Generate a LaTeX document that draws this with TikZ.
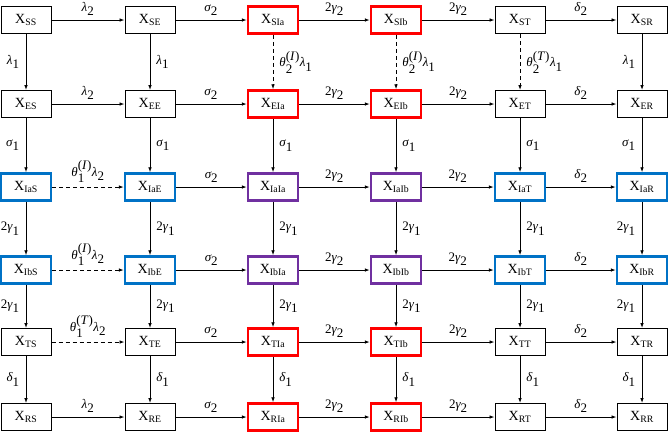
\documentclass[tikz,border=0pt]{standalone}
\usepackage{fontspec}
\setmainfont{Liberation Serif}
\usetikzlibrary{arrows.meta}
\newcommand\gs[2]{$\textit{#1}_{\textnormal{#2}}$}
\newcommand\thI[2]{$\textit{θ}_{\textnormal{#1}}^{\textnormal{(\textit{#2})}}$}
\definecolor{cred}{RGB}{255,0,0}
\definecolor{cblue}{RGB}{0,114,198}
\definecolor{cpurple}{RGB}{112,48,160}
\tikzset{
  boxbase/.style={rectangle, minimum width=50pt, minimum height=27pt, inner sep=0pt,
    font=\fontsize{14}{16}\selectfont},
  box0/.style={boxbase, draw=black, line width=1pt},
  box1/.style={boxbase, draw=cred, line width=2.5pt},
  box2/.style={boxbase, draw=cblue, line width=2.5pt},
  box3/.style={boxbase, draw=cpurple, line width=2.5pt},
  arr/.style={-{Latex[length=5pt,width=3.6pt]}, line width=0.9pt},
  dsh/.style={dash pattern=on 4pt off 3pt},
  hl/.style={above=3pt, midway, inner sep=1pt, font=\fontsize{13}{15}\selectfont},
  vr/.style={right=5pt, midway, inner sep=1pt, font=\fontsize{13}{15}\selectfont},
  vl/.style={left=5pt, midway, inner sep=1pt, font=\fontsize{13}{15}\selectfont},
}
\begin{document}
\begin{tikzpicture}[x=1pt,y=-1pt]
\useasboundingbox (0,0) rectangle (668,432);
\foreach \rn [count=\r] in {S,E,Ia,Ib,T,R} {
  \foreach \cn [count=\c] in {S,E,Ia,Ib,T,R} {
    \pgfmathsetmacro\cx{{26,150,273,396,520,642}[\c-1]}
    \pgfmathsetmacro\ry{{20,104,187,270,342,417}[\r-1]}
    \pgfmathtruncatemacro\rI{(\r==3)||(\r==4)}
    \pgfmathtruncatemacro\cI{(\c==3)||(\c==4)}
    \pgfmathtruncatemacro\k{\rI*2+\cI}
    \node[box\k] (X-\r-\c) at (\cx,\ry) {X\textsubscript{\rn\cn}};
  }
}
% horizontal edges
\foreach \r in {1,2,6} \draw[arr] (X-\r-1) -- node[hl]{\gs{λ}{2}} (X-\r-2);
\draw[arr,dsh] (X-3-1) -- node[hl]{\thI{1}{I}\gs{λ}{2}} (X-3-2);
\draw[arr,dsh] (X-4-1) -- node[hl]{\thI{1}{I}\gs{λ}{2}} (X-4-2);
\draw[arr,dsh] (X-5-1) -- node[hl]{\thI{1}{T}\gs{λ}{2}} (X-5-2);
\foreach \r in {1,...,6} {
  \draw[arr] (X-\r-2) -- node[hl]{\gs{σ}{2}} (X-\r-3);
  \draw[arr] (X-\r-3) -- node[hl]{2\gs{γ}{2}} (X-\r-4);
  \draw[arr] (X-\r-4) -- node[hl]{2\gs{γ}{2}} (X-\r-5);
  \draw[arr] (X-\r-5) -- node[hl]{\gs{δ}{2}} (X-\r-6);
}
% vertical edges
\draw[arr] (X-1-1) -- node[vl]{\gs{λ}{1}} (X-2-1);
\draw[arr] (X-1-2) -- node[vr]{\gs{λ}{1}} (X-2-2);
\draw[arr,dsh] (X-1-3) -- node[vr]{\thI{2}{I}\gs{λ}{1}} (X-2-3);
\draw[arr,dsh] (X-1-4) -- node[vr]{\thI{2}{I}\gs{λ}{1}} (X-2-4);
\draw[arr,dsh] (X-1-5) -- node[vr]{\thI{2}{T}\gs{λ}{1}} (X-2-5);
\draw[arr] (X-1-6) -- node[vl]{\gs{λ}{1}} (X-2-6);
\foreach \c/\s in {1/vl,2/vr,3/vr,4/vr,5/vr,6/vl} {
  \draw[arr] (X-2-\c) -- node[\s]{\gs{σ}{1}} (X-3-\c);
  \draw[arr] (X-3-\c) -- node[\s]{2\gs{γ}{1}} (X-4-\c);
  \draw[arr] (X-4-\c) -- node[\s]{2\gs{γ}{1}} (X-5-\c);
  \draw[arr] (X-5-\c) -- node[\s]{\gs{δ}{1}} (X-6-\c);
}
\end{tikzpicture}
\end{document}
